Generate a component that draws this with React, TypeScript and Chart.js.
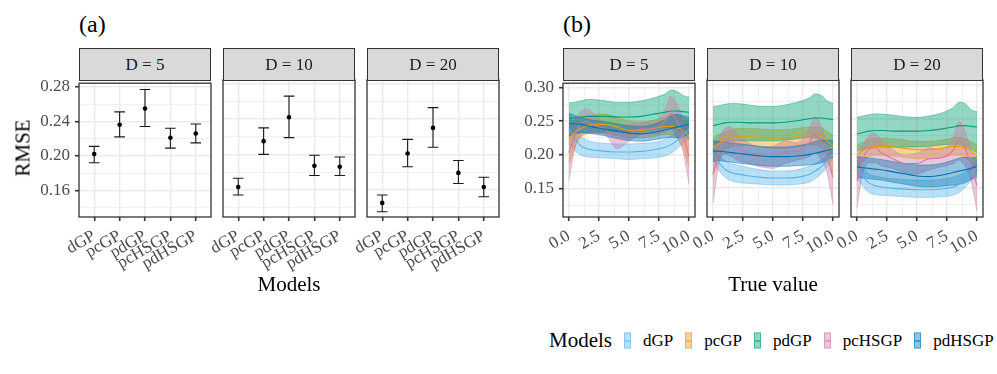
import React, { useEffect, useRef } from "react";
import { Chart, registerables } from "chart.js";
Chart.register(...registerables);

const SERIF = "'Liberation Serif', 'Times New Roman', serif";

// ---------------- data: panel (a) ----------------
const MODELS = ["dGP", "pcGP", "pdGP", "pcHSGP", "pdHSGP"];
const FACETS = ["D = 5", "D = 10", "D = 20"];
const A_Y_TICKS = [0.16, 0.2, 0.24, 0.28];
const A_Y_MINOR = [0.14, 0.18, 0.22, 0.26];
const RMSE_D5 = [0.202, 0.236, 0.255, 0.221, 0.226];
const RMSE_D5_LO = [0.192, 0.222, 0.234, 0.209, 0.215];
const RMSE_D5_HI = [0.211, 0.251, 0.277, 0.232, 0.237];
const RMSE_D10 = [0.163, 0.215, 0.242, 0.187, 0.186];
const RMSE_D10_LO = [0.154, 0.2, 0.219, 0.176, 0.176];
const RMSE_D10_HI = [0.173, 0.23, 0.266, 0.199, 0.197];
const RMSE_D20 = [0.145, 0.201, 0.23, 0.179, 0.163];
const RMSE_D20_LO = [0.135, 0.186, 0.208, 0.167, 0.152];
const RMSE_D20_HI = [0.154, 0.217, 0.253, 0.193, 0.174];

// ---------------- data: panel (b) ----------------
const TRUE_X = [0, 0.5, 1, 1.5, 2, 3, 4, 5, 6, 7, 8, 8.5, 9, 9.5, 10];
const B_X_TICKS = [0, 2.5, 5, 7.5, 10];
const B_X_MINOR = [1.25, 3.75, 6.25, 8.75];
const B_Y_TICKS = [0.15, 0.2, 0.25, 0.3];
const B_Y_MINOR = [0.125, 0.175, 0.225, 0.275];

const D5_DGP_LO = [0.216, 0.206, 0.199, 0.197, 0.196, 0.195, 0.194, 0.193, 0.194, 0.195, 0.198, 0.202, 0.209, 0.217, 0.224];
const D5_DGP_MEAN = [0.238, 0.224, 0.213, 0.209, 0.207, 0.205, 0.204, 0.204, 0.205, 0.207, 0.211, 0.215, 0.221, 0.229, 0.238];
const D5_DGP_HI = [0.26, 0.242, 0.228, 0.222, 0.219, 0.217, 0.216, 0.216, 0.217, 0.218, 0.223, 0.228, 0.234, 0.243, 0.254];
const D5_PCGP_LO = [0.186, 0.212, 0.226, 0.231, 0.233, 0.232, 0.228, 0.225, 0.225, 0.227, 0.23, 0.23, 0.226, 0.212, 0.182];
const D5_PCGP_MEAN = [0.225, 0.233, 0.239, 0.243, 0.245, 0.245, 0.241, 0.236, 0.236, 0.239, 0.242, 0.242, 0.24, 0.235, 0.229];
const D5_PCGP_HI = [0.246, 0.252, 0.255, 0.257, 0.259, 0.26, 0.256, 0.25, 0.248, 0.251, 0.256, 0.258, 0.258, 0.256, 0.252];
const D5_PDGP_LO = [0.226, 0.23, 0.232, 0.234, 0.234, 0.234, 0.234, 0.234, 0.235, 0.237, 0.24, 0.24, 0.237, 0.232, 0.222];
const D5_PDGP_MEAN = [0.254, 0.255, 0.256, 0.257, 0.257, 0.257, 0.256, 0.256, 0.257, 0.26, 0.263, 0.265, 0.265, 0.264, 0.263];
const D5_PDGP_HI = [0.277, 0.278, 0.28, 0.282, 0.282, 0.28, 0.278, 0.278, 0.28, 0.284, 0.29, 0.296, 0.294, 0.288, 0.285];
const D5_PCHSGP_LO = [0.163, 0.21, 0.228, 0.232, 0.232, 0.23, 0.209, 0.22, 0.23, 0.231, 0.234, 0.238, 0.225, 0.205, 0.157];
const D5_PCHSGP_MEAN = [0.203, 0.23, 0.246, 0.25, 0.245, 0.238, 0.225, 0.232, 0.238, 0.238, 0.25, 0.261, 0.25, 0.229, 0.198];
const D5_PCHSGP_HI = [0.24, 0.252, 0.264, 0.268, 0.262, 0.248, 0.24, 0.245, 0.248, 0.247, 0.268, 0.287, 0.275, 0.252, 0.238];
const D5_PDHSGP_LO = [0.228, 0.232, 0.233, 0.232, 0.231, 0.228, 0.224, 0.221, 0.22, 0.222, 0.225, 0.226, 0.225, 0.226, 0.232];
const D5_PDHSGP_MEAN = [0.246, 0.246, 0.245, 0.243, 0.241, 0.238, 0.235, 0.232, 0.231, 0.233, 0.237, 0.239, 0.241, 0.243, 0.245];
const D5_PDHSGP_HI = [0.262, 0.258, 0.255, 0.253, 0.251, 0.249, 0.246, 0.243, 0.242, 0.245, 0.252, 0.258, 0.26, 0.258, 0.256];

const D10_DGP_LO = [0.19, 0.175, 0.165, 0.16, 0.158, 0.156, 0.155, 0.154, 0.154, 0.155, 0.158, 0.163, 0.17, 0.18, 0.192];
const D10_DGP_MEAN = [0.198, 0.186, 0.177, 0.172, 0.17, 0.167, 0.165, 0.164, 0.164, 0.165, 0.169, 0.174, 0.18, 0.189, 0.199];
const D10_DGP_HI = [0.207, 0.196, 0.189, 0.185, 0.183, 0.179, 0.176, 0.174, 0.174, 0.176, 0.181, 0.185, 0.19, 0.197, 0.206];
const D10_PCGP_LO = [0.166, 0.192, 0.205, 0.209, 0.211, 0.211, 0.209, 0.207, 0.207, 0.209, 0.212, 0.212, 0.208, 0.195, 0.17];
const D10_PCGP_MEAN = [0.207, 0.214, 0.219, 0.222, 0.224, 0.224, 0.223, 0.222, 0.222, 0.224, 0.226, 0.226, 0.224, 0.218, 0.21];
const D10_PCGP_HI = [0.222, 0.227, 0.231, 0.234, 0.236, 0.236, 0.235, 0.234, 0.234, 0.236, 0.238, 0.238, 0.237, 0.232, 0.226];
const D10_PDGP_LO = [0.212, 0.215, 0.217, 0.218, 0.218, 0.218, 0.218, 0.218, 0.219, 0.221, 0.223, 0.222, 0.219, 0.214, 0.208];
const D10_PDGP_MEAN = [0.24, 0.242, 0.244, 0.245, 0.245, 0.244, 0.244, 0.244, 0.245, 0.247, 0.25, 0.251, 0.251, 0.25, 0.249];
const D10_PDGP_HI = [0.268, 0.269, 0.271, 0.272, 0.272, 0.27, 0.268, 0.268, 0.27, 0.274, 0.28, 0.286, 0.284, 0.276, 0.272];
const D10_PCHSGP_LO = [0.128, 0.185, 0.198, 0.196, 0.19, 0.185, 0.18, 0.178, 0.185, 0.19, 0.195, 0.2, 0.192, 0.172, 0.126];
const D10_PCHSGP_MEAN = [0.17, 0.203, 0.217, 0.218, 0.21, 0.201, 0.195, 0.195, 0.202, 0.203, 0.215, 0.227, 0.216, 0.195, 0.165];
const D10_PCHSGP_HI = [0.205, 0.222, 0.236, 0.238, 0.228, 0.215, 0.208, 0.21, 0.218, 0.215, 0.235, 0.253, 0.24, 0.215, 0.2];
const D10_PDHSGP_LO = [0.188, 0.189, 0.188, 0.187, 0.186, 0.184, 0.182, 0.181, 0.181, 0.182, 0.183, 0.184, 0.186, 0.19, 0.194];
const D10_PDHSGP_MEAN = [0.203, 0.203, 0.202, 0.201, 0.2, 0.198, 0.196, 0.195, 0.195, 0.196, 0.198, 0.2, 0.202, 0.204, 0.206];
const D10_PDHSGP_HI = [0.218, 0.217, 0.216, 0.215, 0.214, 0.212, 0.21, 0.209, 0.209, 0.211, 0.214, 0.217, 0.219, 0.219, 0.218];

const D20_DGP_LO = [0.165, 0.152, 0.143, 0.14, 0.139, 0.138, 0.137, 0.136, 0.136, 0.137, 0.139, 0.143, 0.15, 0.16, 0.17];
const D20_DGP_MEAN = [0.178, 0.166, 0.157, 0.153, 0.151, 0.149, 0.148, 0.147, 0.147, 0.148, 0.151, 0.155, 0.161, 0.17, 0.18];
const D20_DGP_HI = [0.19, 0.179, 0.17, 0.167, 0.165, 0.163, 0.162, 0.161, 0.161, 0.162, 0.165, 0.168, 0.173, 0.181, 0.19];
const D20_PCGP_LO = [0.176, 0.188, 0.195, 0.197, 0.197, 0.196, 0.194, 0.192, 0.192, 0.194, 0.197, 0.197, 0.194, 0.185, 0.172];
const D20_PCGP_MEAN = [0.198, 0.204, 0.208, 0.21, 0.21, 0.209, 0.207, 0.205, 0.205, 0.207, 0.21, 0.21, 0.208, 0.203, 0.196];
const D20_PCGP_HI = [0.212, 0.216, 0.22, 0.222, 0.222, 0.221, 0.219, 0.217, 0.217, 0.219, 0.222, 0.223, 0.221, 0.217, 0.212];
const D20_PDGP_LO = [0.203, 0.206, 0.208, 0.209, 0.209, 0.209, 0.209, 0.209, 0.21, 0.212, 0.213, 0.213, 0.21, 0.206, 0.2];
const D20_PDGP_MEAN = [0.228, 0.23, 0.232, 0.233, 0.233, 0.232, 0.232, 0.232, 0.233, 0.235, 0.238, 0.24, 0.24, 0.239, 0.238];
const D20_PDGP_HI = [0.252, 0.254, 0.256, 0.257, 0.257, 0.255, 0.253, 0.252, 0.254, 0.258, 0.266, 0.274, 0.272, 0.263, 0.26];
const D20_PCHSGP_LO = [0.121, 0.172, 0.186, 0.186, 0.182, 0.178, 0.172, 0.17, 0.176, 0.18, 0.185, 0.19, 0.182, 0.16, 0.116];
const D20_PCHSGP_MEAN = [0.16, 0.192, 0.206, 0.208, 0.201, 0.192, 0.185, 0.185, 0.192, 0.193, 0.204, 0.218, 0.207, 0.183, 0.153];
const D20_PCHSGP_HI = [0.195, 0.212, 0.226, 0.229, 0.22, 0.205, 0.197, 0.2, 0.208, 0.205, 0.222, 0.246, 0.232, 0.205, 0.19];
const D20_PDHSGP_LO = [0.165, 0.164, 0.163, 0.162, 0.161, 0.158, 0.155, 0.152, 0.151, 0.152, 0.154, 0.155, 0.157, 0.162, 0.166];
const D20_PDHSGP_MEAN = [0.18, 0.179, 0.178, 0.177, 0.176, 0.173, 0.17, 0.167, 0.166, 0.168, 0.172, 0.174, 0.176, 0.178, 0.181];
const D20_PDHSGP_HI = [0.195, 0.194, 0.193, 0.192, 0.191, 0.188, 0.185, 0.183, 0.183, 0.185, 0.19, 0.193, 0.194, 0.193, 0.195];

// tables built from the arrays above
const A_TABLE = [
  [RMSE_D5_LO, RMSE_D5, RMSE_D5_HI],
  [RMSE_D10_LO, RMSE_D10, RMSE_D10_HI],
  [RMSE_D20_LO, RMSE_D20, RMSE_D20_HI],
];
const B_TABLE = [
  [
    [D5_DGP_LO, D5_DGP_MEAN, D5_DGP_HI],
    [D5_PCGP_LO, D5_PCGP_MEAN, D5_PCGP_HI],
    [D5_PDGP_LO, D5_PDGP_MEAN, D5_PDGP_HI],
    [D5_PCHSGP_LO, D5_PCHSGP_MEAN, D5_PCHSGP_HI],
    [D5_PDHSGP_LO, D5_PDHSGP_MEAN, D5_PDHSGP_HI],
  ],
  [
    [D10_DGP_LO, D10_DGP_MEAN, D10_DGP_HI],
    [D10_PCGP_LO, D10_PCGP_MEAN, D10_PCGP_HI],
    [D10_PDGP_LO, D10_PDGP_MEAN, D10_PDGP_HI],
    [D10_PCHSGP_LO, D10_PCHSGP_MEAN, D10_PCHSGP_HI],
    [D10_PDHSGP_LO, D10_PDHSGP_MEAN, D10_PDHSGP_HI],
  ],
  [
    [D20_DGP_LO, D20_DGP_MEAN, D20_DGP_HI],
    [D20_PCGP_LO, D20_PCGP_MEAN, D20_PCGP_HI],
    [D20_PDGP_LO, D20_PDGP_MEAN, D20_PDGP_HI],
    [D20_PCHSGP_LO, D20_PCHSGP_MEAN, D20_PCHSGP_HI],
    [D20_PDHSGP_LO, D20_PDHSGP_MEAN, D20_PDHSGP_HI],
  ],
];

// ---------------- style / layout ----------------
const COLORS = ["#56B4E9", "#E69F00", "#009E73", "#CC79A7", "#0072B2"];
const A_LEFTS = [79, 223, 367];
const B_LEFTS = [563, 707, 851];
const PANEL_TOP = 80;
const PANEL_W = 132;
const PANEL_H = 137;
const STRIP_H = 32;
const MT = 12;
const MR = 14;
const MB = 70;
const XH = 60;

function rgba(hex: string, a: number) {
  const n = parseInt(hex.slice(1), 16);
  return `rgba(${(n >> 16) & 255},${(n >> 8) & 255},${n & 255},${a})`;
}

function axis(o: {
  min: number; max: number; majors: number[]; minors: number[];
  fmt: (v: number) => string; labels: boolean; ticks: boolean; rot: number; size: number; isX: boolean;
}) {
  const all = [...o.majors, ...o.minors].sort((a, b) => a - b);
  const isMajor = (v: any) => typeof v === "number" && o.majors.some((m) => Math.abs(m - v) < 1e-9);
  return {
    type: "linear",
    min: o.min,
    max: o.max,
    afterBuildTicks: (s: any) => { s.ticks = all.map((v) => ({ value: v })); },
    afterFit: (s: any) => { if (o.isX) s.height = o.size; else s.width = o.size; },
    border: { display: false },
    grid: {
      color: "#ebebeb",
      lineWidth: (c: any) => (isMajor(c.tick && c.tick.value) ? 1.4 : 0.7),
      drawTicks: o.ticks,
      tickLength: 4,
      tickWidth: 1.6,
      tickColor: (c: any) => (isMajor(c.tick && c.tick.value) ? "#333333" : "rgba(0,0,0,0)"),
    },
    ticks: {
      display: o.labels,
      autoSkip: false,
      padding: 5,
      color: "#4d4d4d",
      font: { family: SERIF, size: 17 },
      maxRotation: o.rot,
      minRotation: o.rot,
      callback: (v: number) => (isMajor(v) ? o.fmt(v) : ""),
    },
  };
}

const borderPlugin = {
  id: "panelBorder",
  afterDraw(chart: any) {
    const { ctx, chartArea: a } = chart;
    ctx.save();
    ctx.strokeStyle = "#333333";
    ctx.lineWidth = 1.3;
    ctx.strokeRect(a.left, a.top, a.right - a.left, a.bottom - a.top);
    ctx.restore();
  },
};

const errBarPlugin = {
  id: "errbars",
  beforeDatasetsDraw(chart: any, _args: any, opts: any) {
    const { ctx } = chart;
    const xs = chart.scales.x;
    const ys = chart.scales.y;
    const lo: number[] = opts.lo;
    const hi: number[] = opts.hi;
    ctx.save();
    ctx.strokeStyle = "#1a1a1a";
    ctx.lineWidth = 1.1;
    for (let i = 0; i < lo.length; i++) {
      const px = xs.getPixelForValue(i + 1);
      const w = xs.getPixelForValue(i + 1 + 0.21) - px;
      const yl = ys.getPixelForValue(lo[i]);
      const yh = ys.getPixelForValue(hi[i]);
      ctx.beginPath();
      ctx.moveTo(px, yl); ctx.lineTo(px, yh);
      ctx.moveTo(px - w, yl); ctx.lineTo(px + w, yl);
      ctx.moveTo(px - w, yh); ctx.lineTo(px + w, yh);
      ctx.stroke();
    }
    ctx.restore();
  },
};

function configA(f: number, ml: number, yW: number, first: boolean) {
  const [lo, mean, hi] = A_TABLE[f];
  return {
    type: "scatter",
    data: {
      datasets: [{
        data: mean.map((m, i) => ({ x: i + 1, y: m })),
        pointRadius: 2.3,
        pointBackgroundColor: "#000000",
        pointBorderWidth: 0,
      }],
    },
    options: {
      responsive: false,
      maintainAspectRatio: false,
      animation: false,
      events: [],
      layout: { padding: { left: ml - yW, top: MT, right: MR, bottom: MB - XH } },
      plugins: { legend: { display: false }, tooltip: { enabled: false }, errbars: { lo, hi } },
      scales: {
        x: axis({ min: 0.4, max: 5.6, majors: [1, 2, 3, 4, 5], minors: [], fmt: (v) => MODELS[Math.round(v) - 1], labels: true, ticks: true, rot: 30, size: XH, isX: true }),
        y: axis({ min: 0.129, max: 0.2843, majors: A_Y_TICKS, minors: A_Y_MINOR, fmt: (v) => v.toFixed(2), labels: first, ticks: first, rot: 0, size: yW, isX: false }),
      },
    },
    plugins: [errBarPlugin, borderPlugin],
  };
}

function configB(f: number, ml: number, yW: number, first: boolean) {
  const datasets: any[] = [];
  B_TABLE[f].forEach((stats, k) => {
    const [lo, mean, hi] = stats;
    const c = COLORS[k];
    const pts = (arr: number[]) => TRUE_X.map((x, i) => ({ x, y: arr[i] }));
    const common = { pointRadius: 0, cubicInterpolationMode: "monotone", tension: 0.4 };
    datasets.push({ ...common, data: pts(lo), borderColor: rgba(c, 0.55), borderWidth: 0.8, fill: false, order: 21 - 2 * k });
    datasets.push({ ...common, data: pts(hi), borderColor: rgba(c, 0.55), borderWidth: 0.8, fill: "-1", backgroundColor: rgba(c, 0.42), order: 20 - 2 * k });
    datasets.push({ ...common, data: pts(mean), borderColor: c, borderWidth: 1.1, fill: false, order: 5 - k });
  });
  return {
    type: "line",
    data: { datasets },
    options: {
      responsive: false,
      maintainAspectRatio: false,
      animation: false,
      events: [],
      layout: { padding: { left: ml - yW, top: MT, right: MR, bottom: MB - XH } },
      plugins: { legend: { display: false }, tooltip: { enabled: false } },
      scales: {
        x: axis({ min: -0.5, max: 10.5, majors: B_X_TICKS, minors: B_X_MINOR, fmt: (v) => v.toFixed(1), labels: true, ticks: true, rot: 30, size: XH, isX: true }),
        y: axis({ min: 0.1075, max: 0.3062, majors: B_Y_TICKS, minors: B_Y_MINOR, fmt: (v) => v.toFixed(2), labels: first, ticks: first, rot: 0, size: yW, isX: false }),
      },
    },
    plugins: [borderPlugin],
  };
}

function Facet({ panelLeft, first, kind, f }: { panelLeft: number; first: boolean; kind: "a" | "b"; f: number }) {
  const ref = useRef<HTMLCanvasElement>(null);
  const ml = first ? 64 : 30;
  const yW = first ? 50 : 0;
  const w = PANEL_W + ml + MR;
  const h = PANEL_H + MT + MB;
  useEffect(() => {
    const cfg: any = kind === "a" ? configA(f, ml, yW, first) : configB(f, ml, yW, first);
    const chart = new Chart(ref.current as HTMLCanvasElement, cfg);
    return () => chart.destroy();
  }, []);
  return (
    <canvas
      ref={ref}
      width={w}
      height={h}
      style={{ position: "absolute", left: panelLeft - ml, top: PANEL_TOP - MT, width: w, height: h }}
    />
  );
}

function Strip({ left, text }: { left: number; text: string }) {
  return (
    <div
      style={{
        position: "absolute", left, top: PANEL_TOP - STRIP_H, width: PANEL_W, height: STRIP_H + 1,
        boxSizing: "border-box", background: "#d9d9d9", border: "1.3px solid #333333",
        display: "flex", alignItems: "center", justifyContent: "center",
        fontFamily: SERIF, fontSize: 17, color: "#1a1a1a",
      }}
    >
      {text}
    </div>
  );
}

function Label({ x, y, text, size, rotate, align }: { x: number; y: number; text: string; size: number; rotate?: number; align?: "left" | "center" }) {
  const tx = align === "left" ? "0" : "-50%";
  return (
    <div
      style={{
        position: "absolute", left: x, top: y, whiteSpace: "nowrap", lineHeight: 1,
        fontFamily: SERIF, fontSize: size, color: "#000000",
        transform: `translate(${tx}, -50%)${rotate ? ` rotate(${rotate}deg)` : ""}`,
      }}
    >
      {text}
    </div>
  );
}

function Legend() {
  return (
    <div
      style={{
        position: "absolute", left: 549, top: 340, transform: "translateY(-50%)",
        display: "flex", alignItems: "center", fontFamily: SERIF, whiteSpace: "nowrap",
      }}
    >
      <span style={{ fontSize: 21, marginRight: 12, color: "#000" }}>Models</span>
      {MODELS.map((m, k) => (
        <span key={m} style={{ display: "flex", alignItems: "center", marginRight: 12 }}>
          <span
            style={{
              position: "relative", width: 7, height: 16, boxSizing: "border-box",
              background: rgba(COLORS[k], 0.42), border: `0.8px solid ${rgba(COLORS[k], 0.55)}`,
              marginRight: 12,
            }}
          >
            <span style={{ position: "absolute", left: 0, right: 0, top: 7, height: 1.1, background: COLORS[k] }} />
          </span>
          <span style={{ fontSize: 17, color: "#000" }}>{m}</span>
        </span>
      ))}
    </div>
  );
}

export default function App() {
  return (
    <div style={{ position: "absolute", left: 0, top: 0, width: 997, height: 374, background: "#ffffff", overflow: "hidden" }}>
      {FACETS.map((t, f) => (
        <Facet key={"a" + f} panelLeft={A_LEFTS[f]} first={f === 0} kind="a" f={f} />
      ))}
      {FACETS.map((t, f) => (
        <Facet key={"b" + f} panelLeft={B_LEFTS[f]} first={f === 0} kind="b" f={f} />
      ))}
      {FACETS.map((t, f) => (
        <Strip key={"sa" + f} left={A_LEFTS[f]} text={t} />
      ))}
      {FACETS.map((t, f) => (
        <Strip key={"sb" + f} left={B_LEFTS[f]} text={t} />
      ))}
      <Label x={79} y={24} text="(a)" size={24} align="left" />
      <Label x={563} y={24} text="(b)" size={24} align="left" />
      <Label x={23} y={148} text="RMSE" size={21} rotate={-90} />
      <Label x={289} y={284} text="Models" size={21} />
      <Label x={773} y={284} text="True value" size={21} />
      <Legend />
    </div>
  );
}
